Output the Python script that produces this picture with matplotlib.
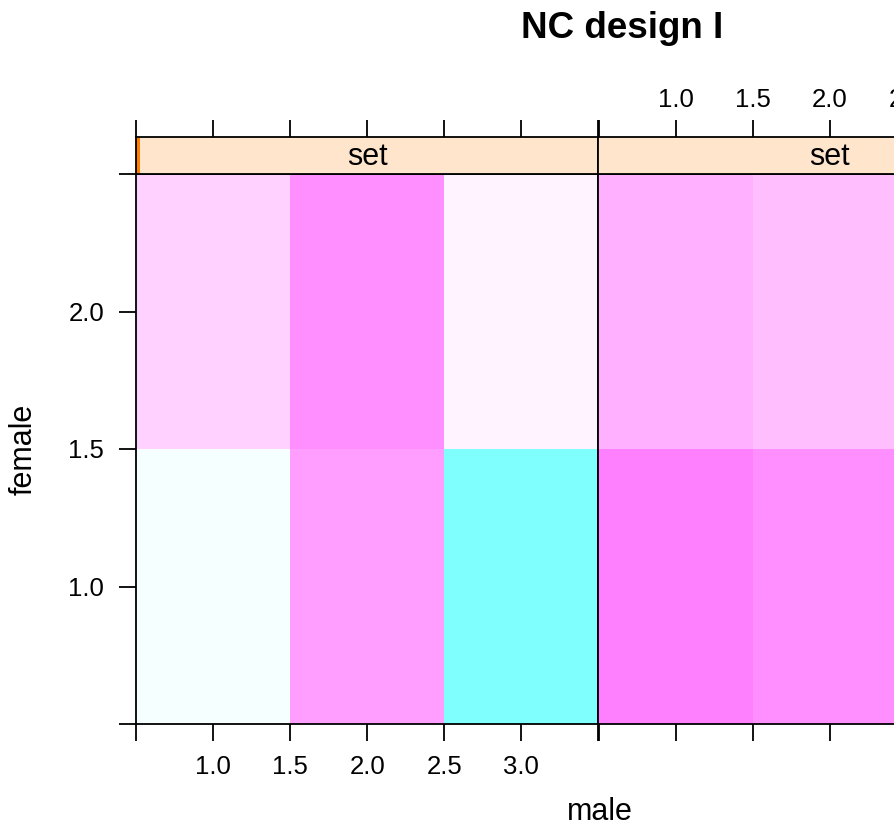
import numpy as np
import matplotlib.pyplot as plt
from matplotlib.colors import LinearSegmentedColormap
from matplotlib.patches import Rectangle

plt.rcParams['font.family'] = ['Liberation Sans', 'DejaVu Sans']

# data: levelplot of NC design I, two "set" panels, male (x) by female (y)
male = [1, 2, 3]
female = [1, 2]
set1 = np.array([[-0.08, 0.76, -1.00],
                 [0.36, 0.88, 0.10]])
set2 = np.array([[1.00, 0.89, 0.30],
                 [0.62, 0.50, 0.20]])
panels = [set1, set2]
xticks = [0.5, 1.0, 1.5, 2.0, 2.5, 3.0, 3.5]
xlabels = ['', '1.0', '1.5', '2.0', '2.5', '3.0', '']
yticks = [0.5, 1.0, 1.5, 2.0, 2.5]
ylabels = ['', '1.0', '1.5', '2.0', '']

# lattice default regions palette (cyan - white - magenta)
cmap = LinearSegmentedColormap.from_list('cm', ['#80FFFF', '#FFFFFF', '#FF80FF'])

W, H = 895, 833
fig = plt.figure(figsize=(W / 100, H / 100), dpi=100)

x0, pw = 136, 462.5
ybot, ytop, stop = 724, 174, 137

xe = np.arange(0.5, 4.0, 1.0)
ye = np.arange(0.5, 3.0, 1.0)

for i, z in enumerate(panels):
    left = x0 + i * pw
    ax = fig.add_axes([left / W, 1 - ybot / H, pw / W, (ybot - ytop) / H])
    ax.pcolormesh(xe, ye, z, cmap=cmap, vmin=-1, vmax=1, shading='flat')
    ax.set_xlim(0.5, 3.5)
    ax.set_ylim(0.5, 2.5)
    for s in ax.spines.values():
        s.set_linewidth(1.3)
    ax.set_xticks(xticks)
    ax.tick_params(axis='both', direction='out', length=12, width=1.3,
                   labelsize=18.5, pad=10)
    ax.set_xticklabels(xlabels if i == 0 else [''] * len(xticks))
    if i == 0:
        ax.set_yticks(yticks)
        ax.set_yticklabels(ylabels)
        ax.tick_params(axis='y', pad=11)
    else:
        ax.set_yticks([])

    # strip
    sa = fig.add_axes([left / W, 1 - ytop / H, pw / W, (ytop - stop) / H])
    sa.set_facecolor('#FFE5CC')
    sa.set_xlim(0.5, 3.5)
    sa.set_ylim(0, 1)
    for s in sa.spines.values():
        s.set_linewidth(1.3)
    if i == 0:
        sa.add_patch(Rectangle((0.5, 0), 0.025, 1, color='#FF7F00', lw=0))
    sa.text(2.0, 0.47, 'set', ha='center', va='center', fontsize=22)
    sa.set_yticks([])
    sa.xaxis.tick_top()
    sa.set_xticks(xticks)
    sa.tick_params(axis='x', direction='out', length=12, width=1.3,
                   labelsize=18.5, pad=6)
    sa.set_xticklabels([''] * len(xticks) if i == 0 else xlabels)

fig.text(622 / W, 1 - 29 / H, 'NC design I', ha='center', va='center',
         fontsize=26.5, fontweight='bold')
fig.text(600 / W, 1 - 812 / H, 'male', ha='center', va='center', fontsize=22)
fig.text(24 / W, 1 - 449 / H, 'female', ha='center', va='center',
         fontsize=22, rotation=90)

fig.savefig('out.png', dpi=100)
